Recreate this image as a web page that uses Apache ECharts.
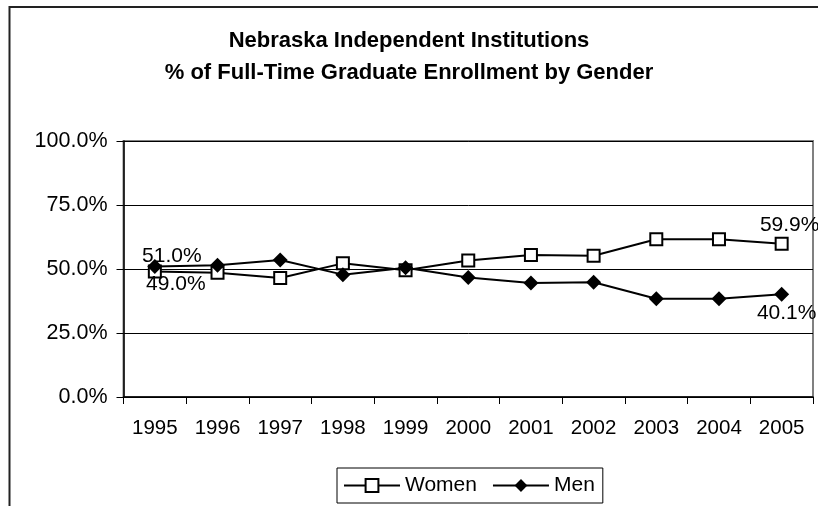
<!DOCTYPE html>
<html><head><meta charset="utf-8">
<script src="https://cdn.jsdelivr.net/npm/echarts@6/dist/echarts.min.js"></script>
<style>html,body{margin:0;padding:0;background:#fff}#c{width:818px;height:506px}</style>
</head><body><div id="c"></div>
<script>
const years = ['1995','1996','1997','1998','1999','2000','2001','2002','2003','2004','2005'];
const women = [49.0, 48.5, 46.5, 52.2, 49.5, 53.3, 55.5, 55.2, 61.6, 61.6, 59.9];
const men = [51.0, 51.5, 53.5, 47.8, 50.5, 46.7, 44.5, 44.8, 38.4, 38.4, 40.1];
const yTicks = [0, 25, 50, 75, 100];
const titleLines = ['Nebraska Independent Institutions', '% of Full-Time Graduate Enrollment by Gender'];

const FONT = '"Liberation Sans", Arial, sans-serif';
const chart = echarts.init(document.getElementById('c'), null, {renderer: 'canvas'});

function lbl(offset) {
  return {show: true, position: 'inside', offset: offset, color: '#000', fontSize: 21, fontFamily: FONT,
    formatter: p => p.value.toFixed(1) + '%'};
}
const last = years.length - 1;
const womenData = women.map((v, i) => {
  if (i === 0) return {value: v, label: lbl([21, 13])};
  if (i === last) return {value: v, label: lbl([8, -18])};
  return v;
});
const menData = men.map((v, i) => {
  if (i === 0) return {value: v, label: lbl([17, -10])};
  if (i === last) return {value: v, label: lbl([5, 19])};
  return v;
});

chart.setOption({
  animation: false,
  backgroundColor: '#fff',
  title: {
    text: titleLines.join('\n'), left: 'center', top: 25, padding: 0,
    textStyle: {fontSize: 22, fontWeight: 'bold', lineHeight: 32, fontFamily: FONT, color: '#000'}
  },
  graphic: [{
    type: 'rect', shape: {x: 9.5, y: 7, width: 900, height: 600}, z: -1,
    style: {fill: 'none', stroke: '#222', lineWidth: 2}
  }],
  grid: {left: 123.5, right: 5, top: 141, bottom: 109, show: true, borderColor: '#808080', borderWidth: 2, backgroundColor: '#fff'},
  legend: {
    data: ['Women', 'Men'], left: 337, top: 468, padding: [7, 8, 7, 6],
    borderColor: '#000', borderWidth: 1, itemWidth: 56, itemHeight: 16, itemGap: 15,
    textStyle: {fontSize: 21, fontFamily: FONT, color: '#000'}
  },
  xAxis: {
    type: 'category', data: years, boundaryGap: true,
    axisLine: {lineStyle: {color: '#000', width: 1.5}},
    axisTick: {show: true, length: 7, lineStyle: {color: '#000'}},
    axisLabel: {fontSize: 20.5, fontFamily: FONT, color: '#000', margin: 21, lineHeight: 20},
    splitLine: {show: false}
  },
  yAxis: {
    type: 'value', min: yTicks[0], max: yTicks[yTicks.length - 1], interval: 25,
    axisLine: {show: true, lineStyle: {color: '#000', width: 1.5}},
    axisTick: {show: true, length: 7, lineStyle: {color: '#000'}},
    axisLabel: {fontSize: 21.5, fontFamily: FONT, color: '#000', margin: 16, formatter: v => v.toFixed(1) + '%'},
    splitLine: {show: true, lineStyle: {color: '#000', width: 1}}
  },
  series: [
    {name: 'Women', type: 'line', data: womenData, symbol: 'rect', symbolSize: 12,
     lineStyle: {color: '#000', width: 2}, itemStyle: {color: '#fff', borderColor: '#000', borderWidth: 2}, z: 3},
    {name: 'Men', type: 'line', data: menData, symbol: 'diamond', symbolSize: 15,
     lineStyle: {color: '#000', width: 2}, itemStyle: {color: '#000', borderColor: '#000', borderWidth: 0}, z: 4}
  ]
});
</script></body></html>
